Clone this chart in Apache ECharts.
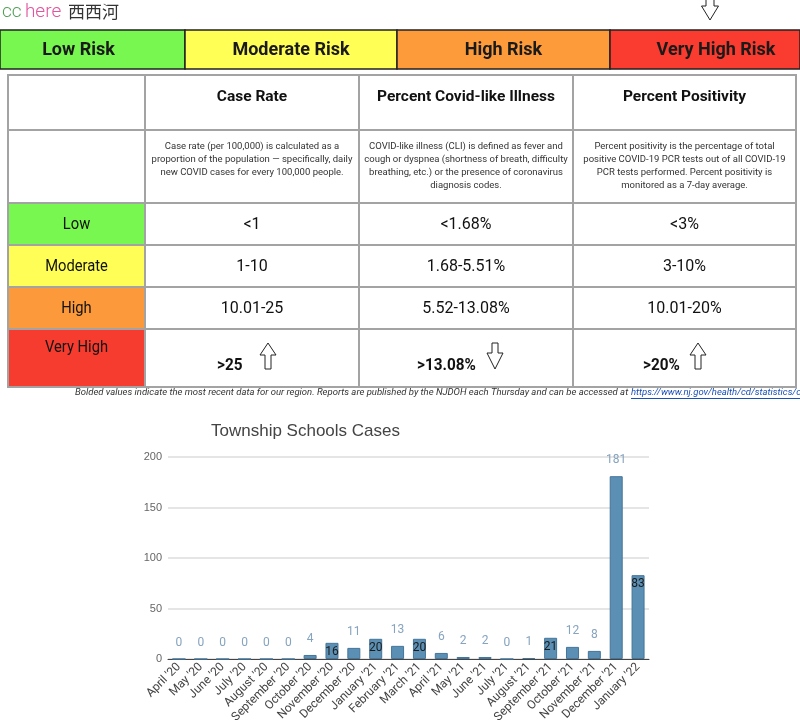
<!DOCTYPE html>
<html><head><meta charset="utf-8">
<script src="https://cdn.jsdelivr.net/npm/echarts@6/dist/echarts.min.js"></script>
<style>html,body{margin:0;padding:0;background:#fff}#c{width:800px;height:726px}</style>
</head><body><div id="c"></div>
<script>
// ---------- data ----------
const months = ["April '20","May '20","June '20","July '20","August '20","September '20","October '20","November '20","December '20","January '21","February '21","March '21","April '21","May '21","June '21","July '21","August '21","September '21","October '21","November '21","December '21","January '22"];
const cases = [0,0,0,0,0,0,4,16,11,20,13,20,6,2,2,0,1,21,12,8,181,83];
const yMin = 0, yMax = 200, yStep = 50;
const chartTitle = "Township Schools Cases";

const riskLevels = ["Low Risk","Moderate Risk","High Risk","Very High Risk"];
const currentRiskIndex = 3;
const metricHeaders = ["Case Rate","Percent Covid-like Illness","Percent Positivity"];
const metricDescriptions = [
  ["Case rate (per 100,000) is calculated as a","proportion of the population \u2014 specifically, daily","new COVID cases for every 100,000 people."],
  ["COVID-like illness (CLI) is defined as fever and","cough or dyspnea (shortness of breath, difficulty","breathing, etc.) or the presence of coronavirus","diagnosis codes."],
  ["Percent positivity is the percentage of total","positive COVID-19 PCR tests out of all COVID-19","PCR tests performed. Percent positivity is","monitored as a 7-day average."]
];
const rowLabels = ["Low","Moderate","High","Very High"];
const caseRateRanges = ["<1","1-10","10.01-25",">25"];
const cliRanges = ["<1.68%","1.68-5.51%","5.52-13.08%",">13.08%"];
const positivityRanges = ["<3%","3-10%","10.01-20%",">20%"];
const trends = ["up","down","up"];
const footnote = "Bolded values indicate the most recent data for our region. Reports are published by the NJDOH each Thursday and can be accessed at ";
const footLink = "https://www.nj.gov/health/cd/statistics/covid/";

// ---------- layout ----------
const riskColors = ['#77f74f','#ffff55','#fd9b3b','#fa3b2f'];
const rowColors = ['#77f74f','#fefe57','#fc9a3b','#f63c2f'];
const riskX = [0,185,397,610,800];
const colX = [8,145,359,573,796];
const rowY = [75,130,203,245,287,329,387];
const g = [];

// header text
g.push({type:'text', x:2, y:12, style:{text:'{a|cc} {b|here}  {c|\u897f\u897f\u6cb3}', textVerticalAlign:'middle', rich:{
  a:{fill:'#4f9f55', fontSize:19, fontFamily:'Roboto', fontWeight:300},
  b:{fill:'#e0559d', fontSize:19, fontFamily:'Roboto', fontWeight:300},
  c:{fill:'#333', fontSize:17, fontFamily:'Noto Sans CJK SC'}}}});

function arrow(cx, top, bottom, headLen, headHalf, shaftHalf, dir){
  let pts;
  if(dir==='up'){
    const hb = top+headLen;
    pts=[[cx,top],[cx+headHalf,hb],[cx+shaftHalf,hb],[cx+shaftHalf,bottom],[cx-shaftHalf,bottom],[cx-shaftHalf,hb],[cx-headHalf,hb]];
  } else {
    const hb = bottom-headLen;
    pts=[[cx,bottom],[cx+headHalf,hb],[cx+shaftHalf,hb],[cx+shaftHalf,top],[cx-shaftHalf,top],[cx-shaftHalf,hb],[cx-headHalf,hb]];
  }
  return {type:'polygon', shape:{points:pts}, style:{fill:'#fff', stroke:'#222', lineWidth:1}, z:10};
}
// top arrow indicating current level
{
  const cx = (riskX[currentRiskIndex]+riskX[currentRiskIndex+1])/2 + 5;
  g.push(arrow(cx, -2, 20, 14, 8.5, 4, 'down'));
}
// risk bar
riskLevels.forEach((t,i)=>{
  g.push({type:'rect', shape:{x:riskX[i], y:30, width:riskX[i+1]-riskX[i], height:39}, style:{fill:riskColors[i], stroke:'#222', lineWidth:1.5}});
  let cx = (riskX[i]+riskX[i+1])/2;
  if(i===0) cx -= 14; if(i===3) cx += 11;
  g.push({type:'text', x:cx, y:50, style:{text:t, textAlign:'center', textVerticalAlign:'middle', fontSize:18, fontWeight:'bold', fontFamily:'Roboto', fill:'#1a1a1a'}});
});

// table cells
for(let r=0;r<6;r++){
  for(let c=0;c<4;c++){
    let fill = '#fff';
    if(c===0 && r>=2) fill = rowColors[r-2];
    g.push({type:'rect', shape:{x:colX[c], y:rowY[r], width:colX[c+1]-colX[c], height:rowY[r+1]-rowY[r]}, style:{fill:fill, stroke:'#a3a3a3', lineWidth:2}});
  }
}
// headers
metricHeaders.forEach((t,i)=>{
  const cx=(colX[i+1]+colX[i+2])/2;
  g.push({type:'text', x:cx, y:97, style:{text:t, textAlign:'center', textVerticalAlign:'middle', fontSize:15.5, fontWeight:'bold', fontFamily:'Roboto', fill:'#111'}});
  metricDescriptions[i].forEach((line,k)=>{
    g.push({type:'text', x:cx, y:147+k*12.8, style:{text:line, textAlign:'center', textVerticalAlign:'middle', fontSize:9.5, fontFamily:'Roboto', fill:'#333'}});
  });
});
// row labels and values
const valueCols = [caseRateRanges, cliRanges, positivityRanges];
rowLabels.forEach((t,r)=>{
  const cy = (rowY[r+2]+rowY[r+3])/2;
  const ly = r===3 ? 348 : cy+1;
  g.push({type:'text', x:(colX[0]+colX[1])/2, y:ly, scaleX:0.92, style:{text:t, textAlign:'center', textVerticalAlign:'middle', fontSize:16, fontFamily:'Roboto', fill:'#111'}});
  valueCols.forEach((arr,i)=>{
    const cx=(colX[i+1]+colX[i+2])/2;
    if(r<3){
      g.push({type:'text', x:cx, y:cy+1, style:{text:arr[r], textAlign:'center', textVerticalAlign:'middle', fontSize:16, fontFamily:'Roboto', fill:'#111'}});
    }
  });
});
// bolded last row with trend arrows
const boldX = [217, 417, 643];
const arrowX = [268, 495, 698];
valueCols.forEach((arr,i)=>{
  g.push({type:'text', x:boldX[i], y:366, scaleX:0.9, style:{text:arr[3], textAlign:'left', textVerticalAlign:'middle', fontSize:17, fontWeight:'bold', fontFamily:'Roboto', fill:'#111'}});
  g.push(arrow(arrowX[i], 343, 369, trends[i]==='up'?12:16, 8, 3, trends[i]));
});
// footnote
g.push({type:'text', x:75, y:393, style:{text:footnote, textAlign:'left', textVerticalAlign:'middle', fontSize:9.5, fontStyle:'italic', fontFamily:'Roboto', fill:'#333'}});
g.push({type:'text', x:631, y:393, style:{text:footLink, textAlign:'left', textVerticalAlign:'middle', fontSize:9.5, fontStyle:'italic', fontFamily:'Roboto', fill:'#1a4fb5'}});
g.push({type:'line', shape:{x1:631, y1:398.5, x2:800, y2:398.5}, style:{stroke:'#1a4fb5', lineWidth:1}});

// ---------- chart ----------
const barData = cases.map(v=>{
  const inside = v>=14 && v<100;
  return {value:v, label: inside ?
    {position:'insideTop', distance:3, color:'#1b1b1b'} :
    {position:'top', distance:10, color:'#86a3bf'}};
});

const chart = echarts.init(document.getElementById('c'), null, {renderer:'canvas'});
chart.setOption({
  animation:false,
  title:{text:chartTitle, left:206, top:418, textStyle:{fontSize:17, fontWeight:'normal', color:'#444', fontFamily:'Liberation Sans'}},
  grid:{left:168, right:151, top:457, bottom:67, containLabel:false},
  xAxis:{type:'category', data:months, axisTick:{show:false},
    axisLine:{lineStyle:{color:'#444', width:1}},
    axisLabel:{rotate:45, interval:0, fontSize:12, color:'#444', fontFamily:'Roboto', margin:6}},
  yAxis:{type:'value', min:yMin, max:yMax, interval:yStep,
    axisLine:{show:false}, axisTick:{show:false},
    splitLine:{lineStyle:{color:'#dcdcdc', width:1.5}},
    axisLabel:{fontSize:11, color:'#666', fontFamily:'Liberation Sans', margin:6}},
  series:[{type:'bar', data:barData, barWidth:13,
    itemStyle:{color:'#5b8fb3', borderColor:'#44759a', borderWidth:1},
    label:{show:true, fontSize:12, fontFamily:'Roboto'}}],
  graphic:{elements:g}
});
</script></body></html>
